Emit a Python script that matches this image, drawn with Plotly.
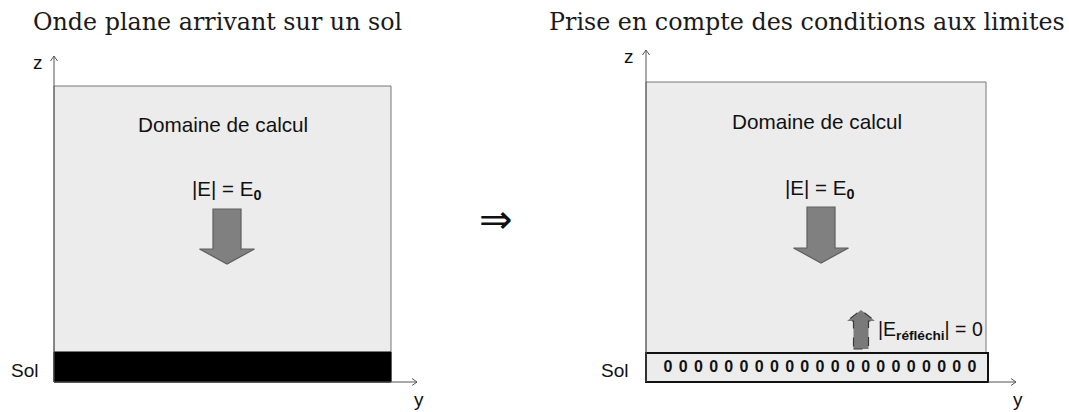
import numpy as np
import plotly.graph_objects as go

# ---- content ----
panel_titles = ["Onde plane arrivant sur un sol", "Prise en compte des conditions aux limites"]
domain_label = "Domaine de calcul"
incident_label = "|E| = E<sub><b>0</b></sub>"
reflected_label = "|E<sub><b>réfléchi</b></sub>| = 0"
ground_label = "Sol"
axis_labels = ["z", "y"]
implication = "⇒"
boundary_values = [0, 0, 0, 0, 0, 0, 0, 0, 0, 0, 0, 0, 0, 0, 0, 0, 0, 0, 0, 0, 0]

W, H = 1069, 412
SANS = "Liberation Sans, Arial, sans-serif"
SERIF = "DejaVu Serif, serif"
DOMAIN_FILL = "#ececec"
AXIS_COL = "#555555"

shapes = []
annotations = []


def rect(x0, y0, x1, y1, fill, line_col, lw=1):
    shapes.append(dict(type="rect", xref="x", yref="y", x0=x0, y0=y0, x1=x1, y1=y1,
                       fillcolor=fill, line=dict(color=line_col, width=lw), layer="below"))


def seg(x0, y0, x1, y1, col=AXIS_COL, lw=1):
    shapes.append(dict(type="line", xref="x", yref="y", x0=x0, y0=y0, x1=x1, y1=y1,
                       line=dict(color=col, width=lw)))


def axis_arrow(x0, y0, x1, y1):
    seg(x0, y0, x1, y1)
    d = np.array([x1 - x0, y1 - y0], float)
    d /= np.linalg.norm(d)
    n = np.array([-d[1], d[0]])
    L, Wd = 5, 3.5
    a = np.array([x1, y1]) - L * d + Wd * n
    b = np.array([x1, y1]) - L * d - Wd * n
    shapes.append(dict(type="path", xref="x", yref="y",
                       path=f"M {a[0]},{a[1]} L {x1},{y1} L {b[0]},{b[1]}",
                       line=dict(color=AXIS_COL, width=1)))


def block_arrow(cx, base, tip, shaft_w, head_w, head_len, fill, line_col, dash="solid"):
    s = 1 if tip > base else -1
    hb = tip - s * head_len
    pts = [(cx - shaft_w / 2, base), (cx + shaft_w / 2, base), (cx + shaft_w / 2, hb),
           (cx + head_w / 2, hb), (cx, tip), (cx - head_w / 2, hb), (cx - shaft_w / 2, hb)]
    path = "M " + " L ".join(f"{x},{y}" for x, y in pts) + " Z"
    shapes.append(dict(type="path", xref="x", yref="y", path=path, fillcolor=fill,
                       line=dict(color=line_col, width=1.2, dash=dash)))


def text(x, y, s, size, family=SANS, color="#111111", xanchor="center"):
    annotations.append(dict(x=x, y=y, xref="x", yref="y", text=s, showarrow=False,
                            xanchor=xanchor, yanchor="middle",
                            font=dict(family=family, size=size, color=color)))


# ---- left panel ----
rect(54, 86, 391, 382, DOMAIN_FILL, "#777777")
rect(54, 352, 391, 382, "#000000", "#000000")
axis_arrow(54, 382, 54, 56)
axis_arrow(54, 382, 417, 382)
text(38, 62, axis_labels[0], 19)
text(419, 399, axis_labels[1], 19)
text(24, 370, ground_label, 19)
text(223, 124, domain_label, 20.7)
text(226, 190, incident_label, 20.5)
block_arrow(227, 209, 264, 28, 55, 15, "#808080", "#5e5e5e")
text(217, 22, panel_titles[0], 23.8, family=SERIF, color="#1a1a1a")

# ---- implication arrow ----
text(496, 219, implication, 40, family="DejaVu Sans", color="#111111")

# ---- right panel ----
rect(646, 82, 986, 382, DOMAIN_FILL, "#777777")
rect(646, 353, 988, 382, DOMAIN_FILL, "#111111", lw=2)
axis_arrow(646, 382, 646, 50)
axis_arrow(988, 382, 1016, 382)
text(629, 56, axis_labels[0], 19)
text(1018, 399, axis_labels[1], 19)
text(614, 370, ground_label, 19)
text(817, 121, domain_label, 20.7)
text(819, 189, incident_label, 20.5)
block_arrow(821, 207, 263, 28, 55, 15, "#808080", "#5e5e5e")
block_arrow(861, 349, 310, 15, 28, 11, "#7a7a7a", "#3a3a3a", dash="dash")
text(876, 330, reflected_label, 19.5, xanchor="left")
text(807, 22, panel_titles[1], 23.8, family=SERIF, color="#1a1a1a")

fig = go.Figure()
fig.add_trace(go.Scatter(
    x=np.linspace(668, 972, len(boundary_values)),
    y=[367.5] * len(boundary_values),
    mode="text", text=[f"<b>{v}</b>" for v in boundary_values],
    textfont=dict(family=SANS, size=16, color="#111111"),
    hoverinfo="skip", showlegend=False))

fig.update_layout(
    width=W, height=H, margin=dict(l=0, r=0, t=0, b=0),
    paper_bgcolor="white", plot_bgcolor="white",
    xaxis=dict(range=[0, W], visible=False, fixedrange=True),
    yaxis=dict(range=[H, 0], visible=False, fixedrange=True),
    shapes=shapes, annotations=annotations, showlegend=False)

fig.write_html("out.html", config={"displayModeBar": False},
               post_script="document.body.style.margin='0';document.body.style.overflow='hidden';")
